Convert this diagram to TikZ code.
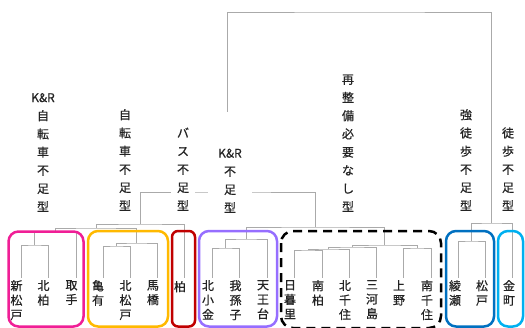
\documentclass[tikz,border=0pt]{standalone}
\usepackage{fontspec}
\newfontfamily\cjk{Noto Sans CJK JP}[FakeBold=0.6]
\definecolor{treegray}{RGB}{170,170,170}
\definecolor{txt}{RGB}{35,35,35}
\definecolor{cpink}{RGB}{240,30,150}
\definecolor{corange}{RGB}{255,185,0}
\definecolor{cred}{RGB}{192,0,0}
\definecolor{cpurple}{RGB}{150,110,255}
\definecolor{cblue}{RGB}{0,112,192}
\definecolor{clblue}{RGB}{0,176,240}
\begin{document}
\begin{tikzpicture}[x=1pt,y=-1pt,
  tree/.style={draw=treegray, line width=0.9pt},
  glabel/.style={font=\cjk\fontsize{12}{18.2}\selectfont, align=center, fill=white, inner xsep=5pt, inner ysep=1pt, anchor=south, text=txt},
  leaf/.style={font=\cjk\fontsize{12}{14.5}\selectfont, align=center, inner sep=0pt, anchor=north, text=txt},
  leafone/.style={font=\cjk\fontsize{12}{14.5}\selectfont, inner sep=0pt, anchor=north, text=txt},
  grp/.style={line width=2.5pt, rounded corners=10pt}
]
\useasboundingbox (0,0) rectangle (525,327);
% leaves
\coordinate (l1) at (21,278);
\coordinate (l2) at (48,278);
\coordinate (l3) at (76,278);
\coordinate (l4) at (103,278);
\coordinate (l5) at (130,278);
\coordinate (l6) at (157,278);
\coordinate (l7) at (184,278);
\coordinate (l8) at (212,278);
\coordinate (l9) at (239,278);
\coordinate (l10) at (267,278);
\coordinate (l11) at (294,278);
\coordinate (l12) at (322,278);
\coordinate (l13) at (349,278);
\coordinate (l14) at (376,278);
\coordinate (l15) at (403,278);
\coordinate (l16) at (431,278);
\coordinate (l17) at (458,278);
\coordinate (l18) at (485,278);
\coordinate (l19) at (512,278);
% merges
\coordinate (A) at (34.5,245);
\coordinate (B) at (55.25,231.5);
\coordinate (C) at (116.5,246);
\coordinate (D) at (136.75,243);
\coordinate (E) at (96,228);
\coordinate (F) at (140,224);
\coordinate (I) at (225.5,248);
\coordinate (J) at (246.25,239);
\coordinate (K) at (308,250);
\coordinate (Q) at (328.5,249);
\coordinate (P) at (352.25,247);
\coordinate (M) at (417,248);
\coordinate (N) at (384.6,245);
\coordinate (H) at (315.4,227);
\coordinate (G) at (227.7,192);
\coordinate (R) at (471.5,241);
\coordinate (S) at (491.75,223);
\coordinate (Root) at (359.7,12);
% tree
\draw[tree] (l1) |- (A) -| (l2);
\draw[tree] (A) |- (B) -| (l3);
\draw[tree] (l4) |- (C) -| (l5);
\draw[tree] (C) |- (D) -| (l6);
\draw[tree] (B) |- (E) -| (D);
\draw[tree] (E) |- (F) -| (l7);
\draw[tree] (l8) |- (I) -| (l9);
\draw[tree] (I) |- (J) -| (l10);
\draw[tree] (l11) |- (K) -| (l12);
\draw[tree] (K) |- (Q) -| (l13);
\draw[tree] (Q) |- (P) -| (l14);
\draw[tree] (l15) |- (M) -| (l16);
\draw[tree] (P) |- (N) -| (M);
\draw[tree] (J) |- (H) -| (N);
\draw[tree] (F) |- (G) -| (H);
\draw[tree] (l17) |- (R) -| (l18);
\draw[tree] (R) |- (S) -| (l19);
\draw[tree] (G) |- (Root) -| (S);
% group labels
\node[glabel] (g1) at (43,213) {K\&R\\自\\転\\車\\不\\足\\型};
\node[glabel] (g2) at (125,212) {自\\転\\車\\不\\足\\型};
\node[glabel, inner xsep=0pt, minimum width=24pt] (g3) at (183,212) {バ\\ス\\不\\足\\型};
\node[glabel, inner sep=0pt] (g4) at (230,213) {\parbox[b][100pt][b]{44pt}{\centering K\&R\\不\\足\\型}};
\node[glabel] (g5) at (348,213) {再\\整\\備\\必\\要\\な\\し\\型};
\node[glabel] (g6) at (466,212) {強\\徒\\歩\\不\\足\\型};
\node[glabel] (g7) at (508,212) {徒\\歩\\不\\足\\型};
% group boxes
\draw[grp, cpink] (8.5,231.5) rectangle (83.5,326.5);
\draw[grp, corange] (88,231) rectangle (168,326.5);
\draw[grp, cred, rounded corners=6pt] (172,231) rectangle (195,326.5);
\draw[grp, cpurple] (199,231) rectangle (277,326.5);
\draw[grp, black, dash pattern=on 9pt off 6pt, rounded corners=12pt] (281,231) rectangle (441,328);
\draw[grp, cblue] (446,231) rectangle (494,326.5);
\draw[grp, clblue] (498,231) rectangle (523,326.5);
% leaf labels
\node[leaf] (t1) at (16.5,280) {新\\松\\戸};
\node[leaf] (t2) at (43.5,280) {北\\柏};
\node[leaf] (t3) at (71.5,280) {取\\手};
\node[leaf] (t4) at (98,280) {亀\\有};
\node[leaf] (t5) at (125.5,280) {北\\松\\戸};
\node[leaf] (t6) at (153,280) {馬\\橋};
\node[leafone] (t7) at (180,281) {柏};
\node[leaf] (t8) at (208,280) {北\\小\\金};
\node[leaf] (t9) at (235.5,280) {我\\孫\\子};
\node[leaf] (t10) at (263,280) {天\\王\\台};
\node[leaf] (t11) at (290,280) {日\\暮\\里};
\node[leaf] (t12) at (318,280) {南\\柏};
\node[leaf] (t13) at (345,280) {北\\千\\住};
\node[leaf] (t14) at (372,280) {三\\河\\島};
\node[leaf] (t15) at (399,280) {上\\野};
\node[leaf] (t16) at (427,280) {南\\千\\住};
\node[leaf] (t17) at (455,280) {綾\\瀬};
\node[leaf] (t18) at (482,280) {松\\戸};
\node[leaf] (t19) at (509,280) {金\\町};
\end{tikzpicture}
\end{document}
